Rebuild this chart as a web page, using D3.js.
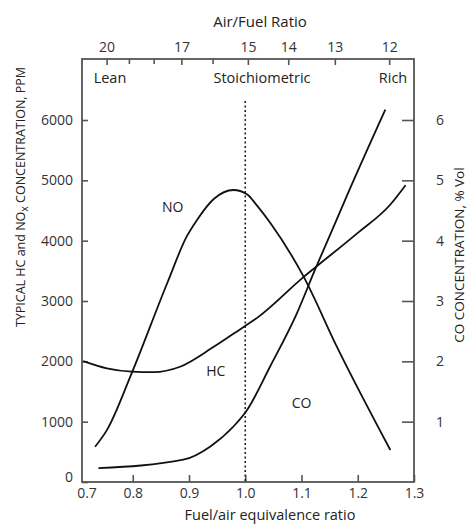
<!DOCTYPE html>
<html>
<head>
<meta charset="utf-8">
<script src="https://cdn.jsdelivr.net/npm/d3@7"></script>
<style>
  body { margin: 0; background: #fff; }
  svg { display: block; font-family: "Open Sans", sans-serif; }
  .axis text { fill: #333; font-size: 14px; font-family: "Open Sans", sans-serif; }
  .axis line { stroke: #555; stroke-width: 1.6; }
  .axis path { display: none; }
</style>
</head>
<body>
<svg width="469" height="524"></svg>
<script>
// fuel/air equivalence ratio ticks (bottom) and air/fuel ratio ticks (top)
var phiTicks = [0.7, 0.8, 0.9, 1.0, 1.1, 1.2, 1.3];
var afLabelled = [20, 17, 15, 14, 13, 12];
var afMinor = [19, 18, 16];
var ppmTicks = [0, 1000, 2000, 3000, 4000, 5000, 6000];
var coTicks = [1, 2, 3, 4, 5, 6];

// NO, ppm
var noPhi = [0.733, 0.754, 0.798, 0.861, 0.896, 0.914, 0.944, 0.979, 1.003, 1.021, 1.044, 1.104, 1.163, 1.258];
var noPpm = [585, 860, 1800, 3290, 4070, 4340, 4690, 4840, 4770, 4580, 4300, 3400, 2240, 530];

// HC, ppm
var hcPhi = [0.712, 0.754, 0.798, 0.837, 0.884, 0.944, 0.997, 1.021, 1.104, 1.125, 1.199, 1.258, 1.285];
var hcPpm = [2005, 1885, 1830, 1820, 1910, 2240, 2570, 2720, 3400, 3560, 4120, 4600, 4920];

// CO, % vol
var coPhi = [0.739, 0.890, 0.938, 0.979, 1.003, 1.044, 1.092, 1.125, 1.151, 1.181, 1.249];
var coPct = [0.23, 0.37, 0.59, 0.92, 1.19, 1.91, 2.80, 3.54, 4.10, 4.75, 6.17];

var STOICH = 15.07;

var svg = d3.select("svg");
var frame = {left: 82, right: 414, top: 59, bottom: 482};

var x = d3.scaleLinear().domain([0.7, 1.3]).range([76.5, 414]),
    y = d3.scaleLinear().domain([0, 6000]).range([482, 120]),
    yCO = d3.scaleLinear().domain([0, 6]).range([482, 120]);

var line = d3.line()
    .x(function(d) { return x(d[0]); })
    .y(function(d) { return d[1]; })
    .curve(d3.curveMonotoneX);

// frame
svg.append("rect")
    .attr("x", frame.left)
    .attr("y", frame.top)
    .attr("width", frame.right - frame.left)
    .attr("height", frame.bottom - frame.top)
    .attr("fill", "none")
    .attr("stroke", "#555")
    .attr("stroke-width", 1.8);

// bottom axis
var bottom = svg.append("g")
    .attr("class", "axis")
    .attr("transform", "translate(0," + frame.bottom + ")")
    .call(d3.axisBottom(x).tickValues(phiTicks).tickFormat(d3.format(".1f")).tickSizeInner(-7).tickSizeOuter(0).tickPadding(6));
bottom.selectAll(".tick").filter(function(d) { return d === 0.7; })
    .select("line").remove();
bottom.selectAll(".tick").filter(function(d) { return d === 0.7; })
    .select("text").attr("x", 10);

// left axis
var left = svg.append("g")
    .attr("class", "axis")
    .attr("transform", "translate(" + frame.left + ",0)")
    .call(d3.axisLeft(y).tickValues(ppmTicks).tickFormat(d3.format("d")).tickSizeInner(-6).tickSizeOuter(0).tickPadding(9));
left.selectAll(".tick").filter(function(d) { return d === 0; })
    .select("text").attr("y", -5);

// right axis
svg.append("g")
    .attr("class", "axis")
    .attr("transform", "translate(" + frame.right + ",0)")
    .call(d3.axisRight(yCO).tickValues(coTicks).tickFormat(d3.format("d")).tickSizeInner(-12).tickSizeOuter(0).tickPadding(22));

// top axis: air/fuel ratio placed on the equivalence ratio scale
svg.append("g")
    .attr("class", "axis")
    .attr("transform", "translate(0," + frame.top + ")")
    .call(d3.axisTop(x)
        .tickValues(afLabelled.map(function(a) { return STOICH / a; }))
        .tickFormat(function(p) { return Math.round(STOICH / p); })
        .tickSizeInner(-6).tickSizeOuter(0).tickPadding(7));
svg.append("g")
    .attr("class", "axis")
    .attr("transform", "translate(0," + frame.top + ")")
    .call(d3.axisTop(x)
        .tickValues(afMinor.map(function(a) { return STOICH / a; }))
        .tickFormat("").tickSizeInner(-5).tickSizeOuter(0));

// stoichiometric line
svg.append("line")
    .attr("x1", x(1.0)).attr("x2", x(1.0))
    .attr("y1", 101).attr("y2", frame.bottom)
    .attr("stroke", "#222")
    .attr("stroke-width", 1.6)
    .attr("stroke-dasharray", "2,2.5");

// curves
var noData = noPhi.map(function(p, i) { return [p, y(noPpm[i])]; });
var hcData = hcPhi.map(function(p, i) { return [p, y(hcPpm[i])]; });
var coData = coPhi.map(function(p, i) { return [p, yCO(coPct[i])]; });

[noData, hcData, coData].forEach(function(d) {
    svg.append("path")
        .attr("d", line(d))
        .attr("fill", "none")
        .attr("stroke", "#111")
        .attr("stroke-width", 1.8);
});

// curve labels
var labels = [["NO", 0.871, 4550], ["HC", 0.9475, 1830], ["CO", 1.1, 1310]];
labels.forEach(function(l) {
    svg.append("text")
        .attr("x", x(l[1]))
        .attr("y", y(l[2]))
        .attr("dy", "0.35em")
        .attr("text-anchor", "middle")
        .style("font-size", "14px")
        .style("fill", "#222")
        .text(l[0]);
});

// region labels
[["Lean", 110], ["Stoichiometric", 262], ["Rich", 393]].forEach(function(l) {
    svg.append("text")
        .attr("x", l[1])
        .attr("y", 83)
        .attr("text-anchor", "middle")
        .style("font-size", "14.5px")
        .style("fill", "#222")
        .text(l[0]);
});

// titles
svg.append("text")
    .attr("x", 260).attr("y", 27)
    .attr("text-anchor", "middle")
    .style("font-size", "15px")
    .style("fill", "#222")
    .text("Air/Fuel Ratio");

svg.append("text")
    .attr("x", 270).attr("y", 520)
    .attr("text-anchor", "middle")
    .style("font-size", "14.5px")
    .style("fill", "#222")
    .text("Fuel/air equivalence ratio");

var yTitle = svg.append("text")
    .attr("transform", "translate(25,197) rotate(-90)")
    .attr("text-anchor", "middle")
    .style("font-size", "12.5px")
    .style("fill", "#222");
yTitle.append("tspan").text("TYPICAL HC and NO");
yTitle.append("tspan").attr("dy", 3).style("font-size", "10.5px").text("x");
yTitle.append("tspan").attr("dy", -3).text(" CONCENTRATION, PPM");

svg.append("text")
    .attr("transform", "translate(464,255) rotate(-90)")
    .attr("text-anchor", "middle")
    .style("font-size", "13.5px")
    .style("fill", "#222")
    .text("CO CONCENTRATION, % Vol");
</script>
</body>
</html>
